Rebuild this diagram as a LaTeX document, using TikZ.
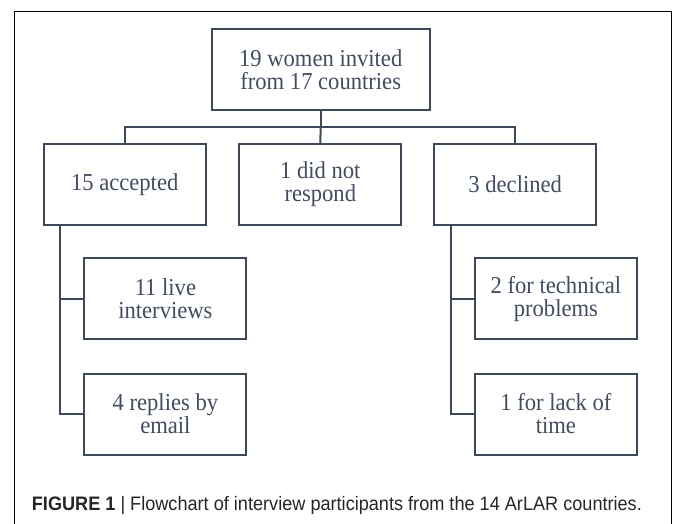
\documentclass[tikz,border=0pt]{standalone}
\usepackage{fontspec}
\setmainfont{Liberation Serif}
\newfontfamily\boxfont[FakeStretch=0.93]{Liberation Serif}
\newfontfamily\capfont{Liberation Sans}
\definecolor{boxline}{HTML}{3D4859}
\definecolor{boxtext}{HTML}{414C5E}
\definecolor{captext}{HTML}{262626}
\begin{document}
\begin{tikzpicture}[x=1pt,y=-1pt,
  fbox/.style={draw=boxline, line width=2pt, minimum width=162pt, minimum height=81pt,
    inner sep=0pt, align=center, text=boxtext, font=\boxfont\fontsize{24.3}{23}\selectfont},
  conn/.style={draw=boxline, line width=2pt}]
\useasboundingbox (0,0) rectangle (674,523);
\begin{scope}
\clip (0,0) rectangle (674,523);
\draw[black, line width=1.3pt] (14.3,11.3) rectangle (671.7,540);
\end{scope}
\node[fbox, minimum width=218pt] (top) at (320.7,69.5) {19 women invited\\from 17 countries};
\node[fbox] (acc) at (124.7,184.5) {15 accepted};
\node[fbox] (nr) at (320.3,184.5) {1 did not\\respond};
\node[fbox] (dec) at (515.2,184.5) {3 declined};
\node[fbox] (live) at (165.4,298.9) {11 live\\interviews};
\node[fbox] (email) at (165.4,414) {4 replies by\\email};
\node[fbox] (tech) at (555.9,298.9) {2 for technical\\problems};
\node[fbox] (lack) at (555.9,414) {1 for lack of\\time};
\coordinate (bus) at (320.7,127);
\draw[conn] (top.south) -- (bus);
\draw[conn] (acc.north) |- (bus) -| (dec.north);
\draw[conn] (bus) -- (nr.north);
\draw[conn] ([xshift=-64.7pt]acc.south) |- (live.west);
\draw[conn] ([xshift=-64.7pt]acc.south) |- (email.west);
\draw[conn] ([xshift=-64.2pt]dec.south) |- (tech.west);
\draw[conn] ([xshift=-64.2pt]dec.south) |- (lack.west);
\node[anchor=base west, inner sep=0pt, text=captext, font=\capfont\fontsize{19.5}{22}\selectfont] (cap) at (31.7,510)
  {\resizebox{610pt}{\height}{{\bfseries FIGURE 1} | Flowchart of interview participants from the 14 ArLAR countries.}};
\end{tikzpicture}
\end{document}
